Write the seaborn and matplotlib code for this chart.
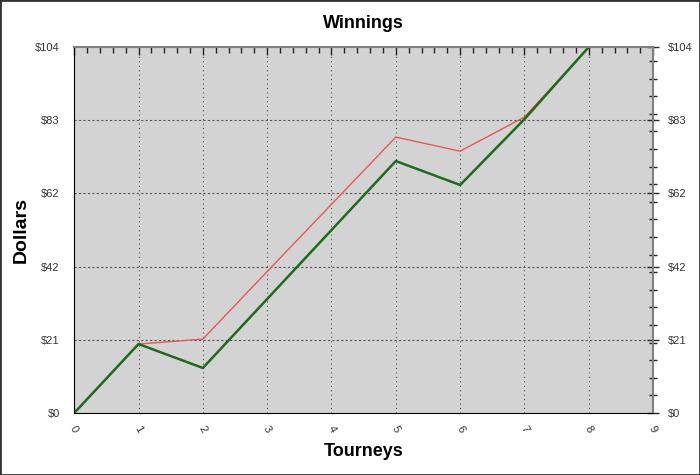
import numpy as np
import pandas as pd
import seaborn as sns
import matplotlib.pyplot as plt
from matplotlib.ticker import MultipleLocator, FixedLocator

# values
tourneys = [0, 1, 2, 3, 4, 5, 6, 7, 8]
red_line = [0, 19.6, 21.0, 40.2, 59.3, 78.4, 74.4, 84.1, 104]
green_line = [0, 19.6, 12.8, 32.4, 52.0, 71.6, 64.8, 83.5, 104]

y_ticks = [0, 20.8, 41.6, 62.4, 83.2, 104]
y_labels = ["$0", "$21", "$42", "$62", "$83", "$104"]

df = pd.DataFrame({"Tourneys": tourneys, "red": red_line, "green": green_line})

sns.set_style("white")
plt.rcParams["font.family"] = ["Liberation Sans", "DejaVu Sans"]

fig = plt.figure(figsize=(7, 4.75), dpi=100)
ax = fig.add_axes([0.106, 0.1305, 0.827, 0.7705])
ax.set_facecolor("#d3d3d3")

sns.lineplot(data=df, x="Tourneys", y="red", color="#e8575a", linewidth=1.0, ax=ax)
sns.lineplot(data=df, x="Tourneys", y="green", color="#1e6b1e", linewidth=1.8, ax=ax)

ax.set_xlim(0, 9)
ax.set_ylim(0, 104)
ax.set_xticks(range(10))
ax.xaxis.set_minor_locator(MultipleLocator(0.2))
ax.yaxis.set_major_locator(FixedLocator(y_ticks))
ax.set_yticklabels(y_labels)
ax.yaxis.set_minor_locator(MultipleLocator(5))

ax.grid(True, axis="x", which="major", linestyle=(0, (1, 3)), color="#555555", linewidth=0.8)
ax.grid(True, axis="y", which="major", linestyle=(0, (2, 2)), color="#555555", linewidth=0.8)

ax.tick_params(axis="both", which="major", direction="inout", length=9, width=1,
               labelsize=8, labelcolor="#333333", right=True, labelright=True)
ax.tick_params(axis="y", which="major", pad=6)
ax.tick_params(axis="both", which="minor", direction="inout", length=6, width=1, right=True)
# top axis: ticks point into the plot only
ax.tick_params(axis="x", which="major", top=True)
ax.tick_params(axis="x", which="minor", top=True)
for t in ax.xaxis.get_major_ticks() + ax.xaxis.get_minor_ticks():
    t.tick2line.set_marker(3)
for t in ax.xaxis.get_major_ticks():
    t.tick2line.set_markersize(6)
for t in ax.xaxis.get_minor_ticks():
    t.tick2line.set_markersize(4)
plt.setp(ax.get_xticklabels(), rotation=-60, ha="center")

for side in ["left", "bottom"]:
    ax.spines[side].set_color("black")
for side in ["top", "right"]:
    ax.spines[side].set_color("#808080")
    ax.spines[side].set_linewidth(1.5)

ax.set_title("Winnings", fontsize=13, fontweight="bold", color="black", pad=14)
ax.set_xlabel("Tourneys", fontsize=13, fontweight="bold", color="black", labelpad=6)
ax.set_ylabel("Dollars", fontsize=14, fontweight="bold", color="black", labelpad=4)

fig.patches.append(plt.Rectangle((0, 0), 1, 1, transform=fig.transFigure,
                                 fill=False, edgecolor="#333333", linewidth=2))
fig.savefig("out.png", dpi=100)
